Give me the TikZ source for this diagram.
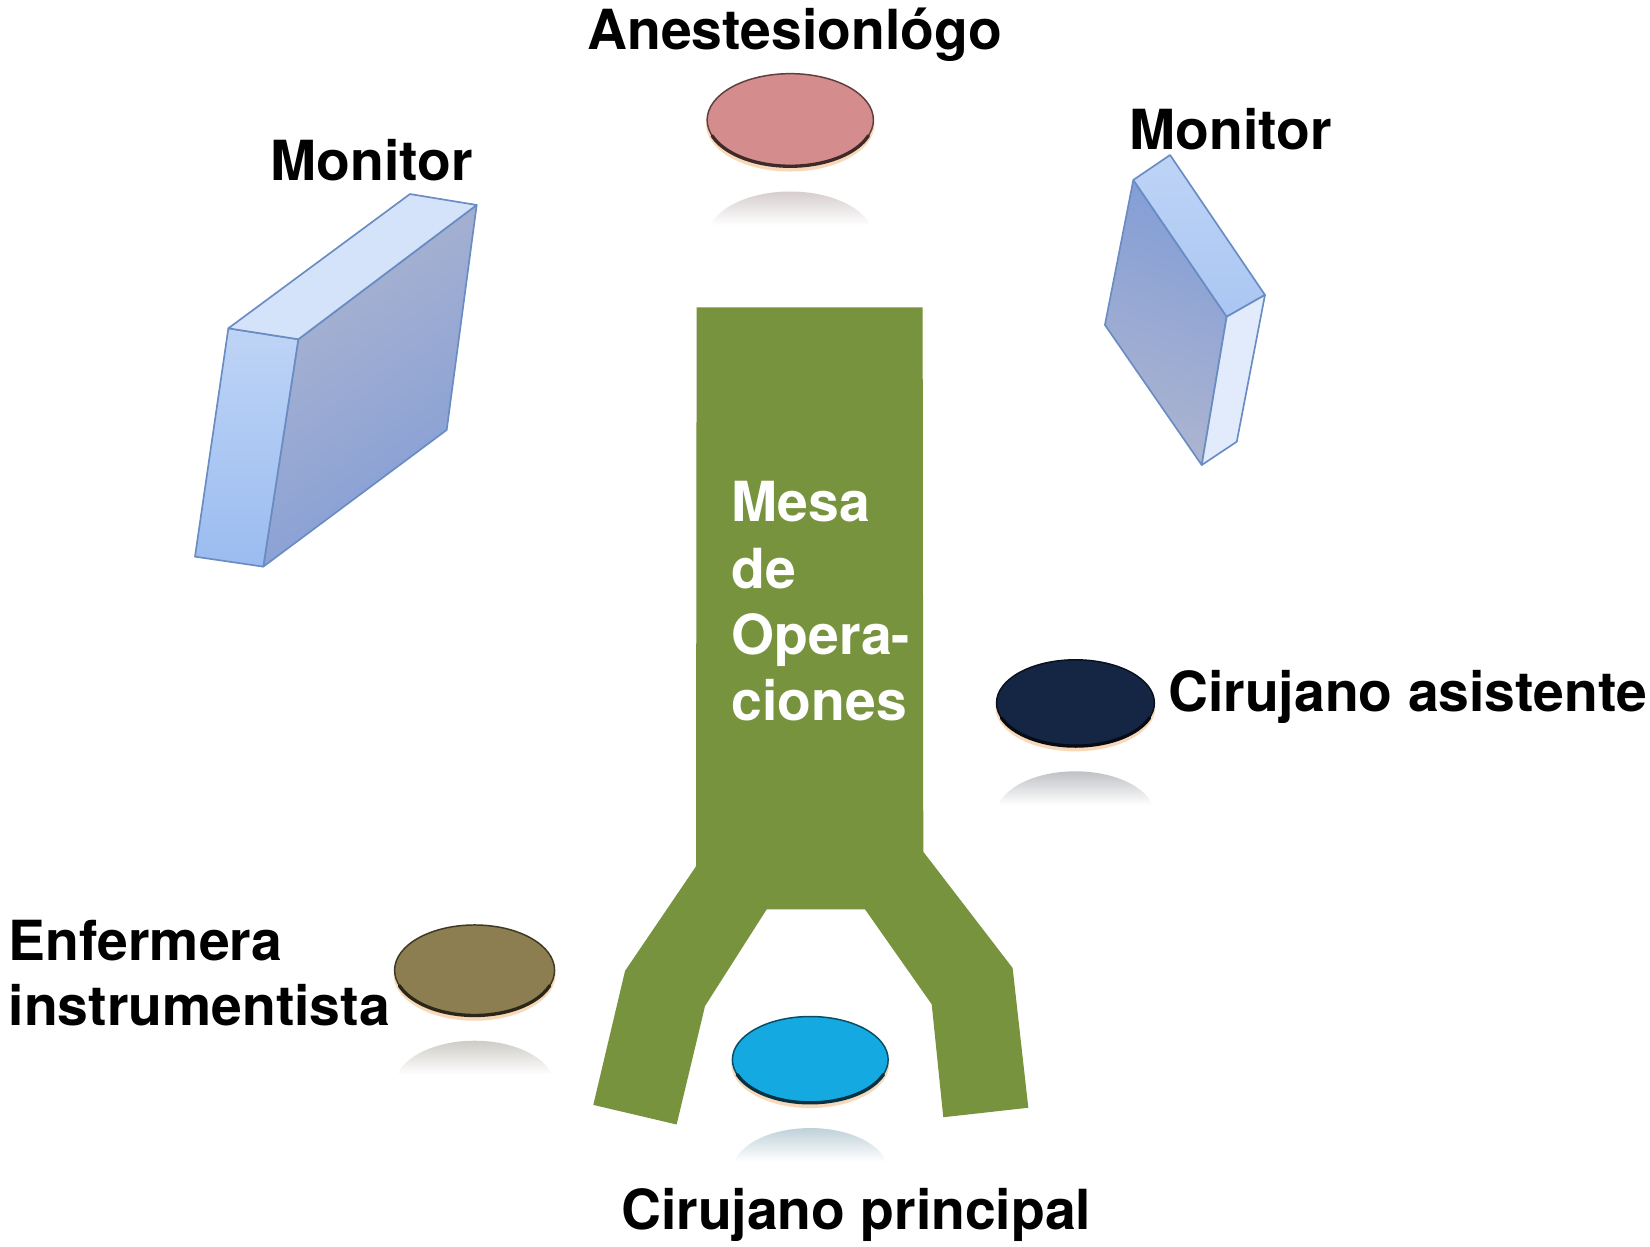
\documentclass[tikz,border=0pt]{standalone}
\usepackage{fontspec}
\setmainfont{TeX Gyre Heros}
\usetikzlibrary{shapes.geometric}
\definecolor{tablegreen}{RGB}{119,147,61}
\definecolor{pinkdisc}{RGB}{212,140,140}
\definecolor{navydisc}{RGB}{20,38,68}
\definecolor{olivedisc}{RGB}{140,126,80}
\definecolor{cyandisc}{RGB}{20,170,225}
\definecolor{monedge}{RGB}{105,140,195}
\definecolor{montop}{RGB}{212,226,250}
\definecolor{monsideA}{RGB}{190,212,246}
\definecolor{monsideB}{RGB}{155,188,240}
\definecolor{monfaceA}{RGB}{172,180,208}
\definecolor{monfaceB}{RGB}{132,158,214}
\definecolor{monlight}{RGB}{225,235,252}
\newcommand\mydisc[6]{%
  % #1 name, #2 cx, #3 cy, #4 rx, #5 ry, #6 colour
  \begin{scope}
    \clip (#2,#3+2*#5+24) ellipse [x radius=#4, y radius=#5];
    \shade[top color=#6!30!gray!40, bottom color=white]
      (#2-#4,#3+#5+24) rectangle (#2+#4,#3+#5+56);
    \fill[white] (#2-#4,#3+#5+56) rectangle (#2+#4,#3+3*#5+30);
  \end{scope}
  \fill[orange!60!brown, opacity=0.3] (#2,#3+4) ellipse [x radius=#4+1, y radius=#5+1];
  \node[draw=#6!45!black, line width=0.8pt, fill=#6, ellipse, minimum width=2*#4*0.02cm,
        minimum height=2*#5*0.02cm, inner sep=0] (#1) at (#2,#3) {};
  \draw[line width=1.8pt, #6!30!black, line cap=round] ({#2+#4*cos(20)},{#3+#5*sin(20)})
     arc[start angle=20, end angle=160, x radius=#4, y radius=#5];
}
\tikzset{
  lbl/.style={font=\fontsize{29.9}{36}\selectfont\bfseries, inner sep=0, anchor=base west},
  wlbl/.style={lbl, text=white},
  monline/.style={draw=monedge, line width=0.9pt, line join=round}
}
\begin{document}
\begin{tikzpicture}[x=0.02cm,y=-0.02cm]
\useasboundingbox (0,0) rectangle (1568,1185);
\fill[white] (0,0) rectangle (1568,1185);

% operating table
\fill[tablegreen] (662,292) -- (876.8,292) -- (877.4,809.4) -- (962.3,919.9)
  -- (977.2,1052.7) -- (896.4,1061.7) -- (885.4,954.4) -- (822,864.1)
  -- (728.6,864.1) -- (670,956) -- (643,1068.6) -- (563.8,1050)
  -- (594,922.6) -- (661.4,823.3) -- cycle;
\node[wlbl] (mesa1) at (695,496) {Mesa};
\node[wlbl] (mesa2) at (695,559) {de};
\node[wlbl] (mesa3) at (695,622) {Opera-};
\node[wlbl] (mesa4) at (695,685) {ciones};

% left monitor
\shadedraw[monline, top color=monfaceA, bottom color=monfaceB, shading angle=35]
  (283.5,322.4) -- (453,194.8) -- (424.5,408.6) -- (250.2,538.5) -- cycle;
\shadedraw[monline, top color=monsideA, bottom color=monsideB]
  (217,312) -- (283.5,322.4) -- (250.2,538.5) -- (185.3,529) -- cycle;
\filldraw[monline, fill=montop]
  (217,312) -- (389.6,184.4) -- (453,194.8) -- (283.5,322.4) -- cycle;

% right monitor
\shadedraw[monline, top color=monfaceB, bottom color=monfaceA, shading angle=-20]
  (1077,171) -- (1165.7,301) -- (1142,441.9) -- (1050,308.8) -- cycle;
\shadedraw[monline, top color=monsideA, bottom color=monsideB!85!white]
  (1077,171) -- (1111.9,147.3) -- (1202.1,280.3) -- (1165.7,301) -- cycle;
\filldraw[monline, fill=monlight]
  (1165.7,301) -- (1202.1,280.3) -- (1175.3,419.7) -- (1142,441.9) -- cycle;

% discs
\mydisc{anest}{751}{114}{79}{44}{pinkdisc}
\mydisc{asist}{1022}{668}{75}{41}{navydisc}
\mydisc{enf}{451}{922}{76}{43}{olivedisc}
\mydisc{princ}{770}{1007}{74}{41}{cyandisc}

% labels
\node[lbl] (tanest) at (558,47) {Anestesionlógo};
\node[lbl] (tmonl) at (257,172) {Monitor};
\node[lbl] (tmonr) at (1073,142) {Monitor};
\node[lbl] (tasist) at (1110,676) {Cirujano asistente};
\node[lbl] (tenf1) at (8,913) {Enfermera};
\node[lbl] (tenf2) at (8,975) {instrumentista};
\node[lbl] (tprinc) at (590,1168) {Cirujano principal};
\end{tikzpicture}
\end{document}
